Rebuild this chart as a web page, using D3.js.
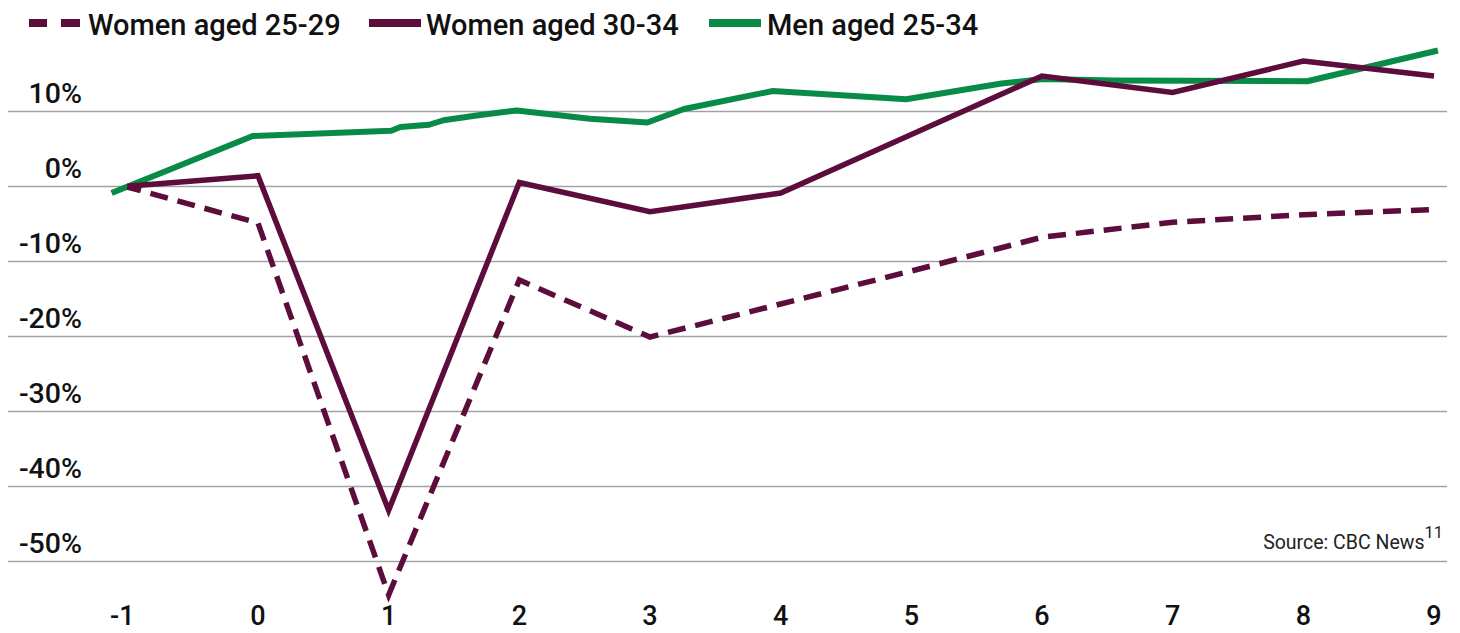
<!DOCTYPE html>
<html>
<head>
<meta charset="utf-8">
<script src="https://cdn.jsdelivr.net/npm/d3@7"></script>
<style>
  html, body { margin: 0; padding: 0; background: #fff; }
  svg { display: block; }
  text { font-family: Roboto, "Liberation Sans", sans-serif; }
</style>
</head>
<body>
<svg id="chart" width="1460" height="633"></svg>
<script>
// ---- data ----
const years = [-1, 0, 1, 2, 3, 4, 5, 6, 7, 8, 9];
const women2529 = [-0.2, -5.0, -54.6, -12.6, -20.2, -15.8, -11.4, -6.9, -4.9, -3.9, -3.2];
const women3034 = [-0.1, 1.3, -43.3, 0.4, -3.5, -1.0, 6.8, 14.6, 12.4, 16.6, 14.6];
const menX = [-1.12, -0.04, 1.02, 1.09, 1.31, 1.42, 1.7, 1.98, 2.54, 2.98, 3.26, 3.94, 4.96, 5.69, 6.01, 6.54, 8.03, 9.03];
const menValues = [-1.0, 6.6, 7.3, 7.8, 8.1, 8.7, 9.4, 10.0, 8.9, 8.4, 10.2, 12.6, 11.5, 13.6, 14.2, 14.0, 13.9, 18.0];
const yTicks = [10, 0, -10, -20, -30, -40, -50];
const yTickLabels = ["10%", "0%", "-10%", "-20%", "-30%", "-40%", "-50%"];
const seriesNames = ["Women aged 25-29", "Women aged 30-34", "Men aged 25-34"];
const seriesColors = ["#5c0d3c", "#5c0d3c", "#098b48"];
const sourceText = "Source: CBC News";
const sourceSup = "11";

// ---- chart ----
const svg = d3.select("#chart");
const x = d3.scaleLinear().domain([-1, 9]).range([127.3, 1434]);
const y = d3.scaleLinear().domain([-50, 10]).range([560.5, 110.5]);

// gridlines
const grid = svg.append("g");
grid.selectAll("line").data(yTicks).join("line")
  .attr("x1", 8).attr("x2", 1447)
  .attr("y1", d => Math.round(y(d)) + 0.5)
  .attr("y2", d => Math.round(y(d)) + 0.5)
  .attr("stroke", "#a3a3a3").attr("stroke-width", 1.6);

// y labels
svg.append("g").selectAll("text").data(yTicks).join("text")
  .attr("x", 82).attr("y", d => y(d) - 8)
  .attr("text-anchor", "end")
  .attr("font-size", 28.5).attr("font-weight", 500).attr("fill", "#111")
  .text((d, i) => yTickLabels[i]);

// x labels
svg.append("g").selectAll("text").data(years).join("text")
  .attr("x", d => x(d) - (d < 0 ? 5 : 0)).attr("y", 625)
  .attr("text-anchor", "middle")
  .attr("font-size", 27).attr("font-weight", 500).attr("fill", "#111")
  .text(d => d);

const line = d3.line().x(d => x(d[0])).y(d => y(d[1]));

// men
svg.append("path")
  .datum(menX.map((v, i) => [v, menValues[i]]))
  .attr("d", line).attr("fill", "none")
  .attr("stroke", seriesColors[2]).attr("stroke-width", 6)
  .attr("stroke-linejoin", "round");

// women 30-34
svg.append("path")
  .datum(years.map((v, i) => [v, women3034[i]]))
  .attr("d", line).attr("fill", "none")
  .attr("stroke", seriesColors[1]).attr("stroke-width", 5.5)
  .attr("stroke-linejoin", "miter").attr("stroke-miterlimit", 10);

// women 25-29 dashed
svg.append("path")
  .datum(years.map((v, i) => [v, women2529[i]]))
  .attr("d", line).attr("fill", "none")
  .attr("stroke", seriesColors[0]).attr("stroke-width", 5.5)
  .attr("stroke-dasharray", "18 10")
  .attr("stroke-dashoffset", 4)
  .attr("stroke-linejoin", "miter").attr("stroke-miterlimit", 10);

// legend
const leg = svg.append("g");
leg.append("rect").attr("x", 29).attr("y", 19).attr("width", 18).attr("height", 8).attr("fill", seriesColors[0]);
leg.append("rect").attr("x", 61).attr("y", 19).attr("width", 19).attr("height", 8).attr("fill", seriesColors[0]);
leg.append("rect").attr("x", 369).attr("y", 19).attr("width", 52).attr("height", 8).attr("fill", seriesColors[1]);
leg.append("rect").attr("x", 709).attr("y", 19).attr("width", 52).attr("height", 8).attr("fill", seriesColors[2]);
const legX = [88, 426, 767];
leg.selectAll("text.lg").data(seriesNames).join("text")
  .attr("class", "lg")
  .attr("x", (d, i) => legX[i]).attr("y", 35)
  .attr("font-size", 29).attr("font-weight", 500).attr("fill", "#111")
  .text(d => d);

// source
const src = svg.append("text")
  .attr("x", 1443).attr("y", 549).attr("text-anchor", "end")
  .attr("font-size", 19.5).attr("fill", "#222");
src.append("tspan").text(sourceText);
src.append("tspan").attr("dy", -11).attr("font-size", 16.5).text(sourceSup);
</script>
</body>
</html>
